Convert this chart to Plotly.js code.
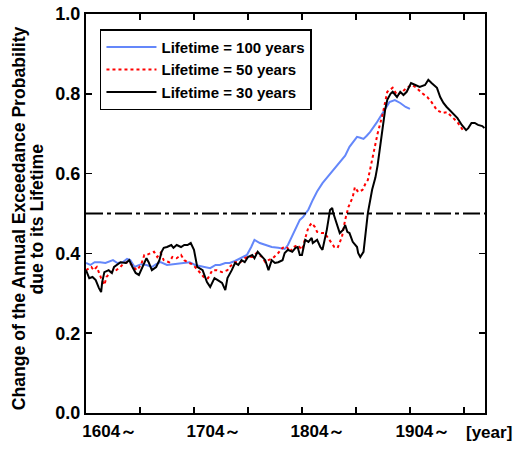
<!DOCTYPE html>
<html>
<head>
<meta charset="utf-8">
<script src="https://cdn.plot.ly/plotly-3.0.1.min.js"></script>
<style>html,body{margin:0;padding:0;background:#fff;}</style>
</head>
<body>
<div id="chart" style="width:518px;height:450px;"></div>
<script>
// ---- data ----
const seriesNames = ['Lifetime = 100 years', 'Lifetime = 50 years', 'Lifetime = 30 years'];

const blueYears = [1604,1608,1612,1617,1622,1629,1633,1638,1642,1645,1649,1655,1660,1665,1669,1673,1679,1685,1691,1697,
  1700,1705,1710,1716,1719,1724,1728,1733,1737,1742,1747,1753,1757,1760,1765,1770,1776,1782,1788,1791,
  1795,1798,1802,1805,1810,1814,1818,1823,1828,1833,1839,1844,1848,1852,1855,1858,1861,1864,1867,1873,
  1879,1885,1890,1895,1900,1904];
const blueVals = [0.376,0.371,0.378,0.378,0.376,0.383,0.376,0.378,0.386,0.383,0.366,0.373,0.371,0.366,0.373,0.378,0.371,0.373,0.376,0.378,
  0.378,0.371,0.368,0.366,0.363,0.371,0.371,0.376,0.376,0.381,0.388,0.396,0.416,0.434,0.426,0.421,0.416,0.414,0.411,0.421,
  0.444,0.464,0.484,0.491,0.510,0.534,0.555,0.576,0.592,0.609,0.627,0.645,0.667,0.680,0.692,0.690,0.687,0.695,0.704,0.727,
  0.752,0.779,0.784,0.777,0.767,0.762];

const redYears = [1604,1609,1611,1614,1618,1621,1623,1627,1632,1636,1639,1644,1648,1651,1655,1658,1660,1664,1667,1670,
  1673,1676,1681,1684,1688,1692,1695,1698,1702,1705,1710,1714,1717,1721,1725,1730,1735,1737,1742,1747,
  1751,1754,1758,1762,1767,1770,1773,1777,1782,1786,1790,1793,1796,1800,1804,1807,1810,1813,1816,1818,
  1822,1825,1828,1832,1834,1837,1841,1844,1847,1851,1853,1856,1860,1863,1865,1867,1870,1874,1879,1883,
  1888,1892,1897,1901,1906,1910,1915,1920,1924,1929,1934,1938,1943,1948,1953];
const redVals = [0.358,0.366,0.358,0.366,0.338,0.321,0.341,0.353,0.358,0.366,0.376,0.378,0.366,0.358,0.371,0.396,0.396,0.401,0.404,0.391,
  0.401,0.383,0.378,0.391,0.388,0.396,0.383,0.378,0.373,0.366,0.351,0.338,0.338,0.358,0.358,0.353,0.358,0.366,0.378,0.378,
  0.388,0.391,0.391,0.401,0.391,0.378,0.383,0.388,0.401,0.414,0.416,0.404,0.416,0.421,0.409,0.439,0.466,0.476,0.466,0.454,
  0.451,0.451,0.439,0.426,0.416,0.414,0.441,0.484,0.516,0.541,0.566,0.554,0.559,0.576,0.584,0.609,0.650,0.700,0.752,0.805,
  0.815,0.797,0.805,0.815,0.822,0.815,0.802,0.792,0.779,0.759,0.752,0.754,0.742,0.729,0.709];

const blackYears = [1604,1607,1610,1613,1616,1618,1619,1621,1625,1628,1630,1633,1636,1641,1644,1647,1650,1653,1656,1660,
  1662,1665,1669,1672,1674,1676,1679,1683,1685,1688,1692,1695,1698,1701,1704,1707,1712,1716,1719,1723,
  1726,1730,1733,1735,1739,1742,1745,1748,1751,1754,1758,1760,1763,1767,1770,1773,1776,1779,1782,1786,
  1788,1791,1795,1798,1800,1802,1804,1807,1810,1813,1814,1818,1821,1823,1827,1830,1832,1833,1836,1839,
  1842,1844,1846,1848,1851,1855,1856,1858,1861,1863,1865,1869,1872,1874,1876,1879,1881,1883,1886,1888,
  1892,1895,1898,1901,1905,1909,1913,1918,1921,1924,1929,1932,1935,1938,1943,1948,1952,1956,1958,1961,
  1964,1967,1971,1973];
const blackVals = [0.358,0.338,0.341,0.333,0.313,0.303,0.328,0.353,0.358,0.351,0.366,0.371,0.378,0.376,0.383,0.366,0.351,0.346,0.366,0.388,
  0.378,0.358,0.366,0.383,0.404,0.414,0.416,0.421,0.414,0.421,0.416,0.421,0.421,0.426,0.409,0.366,0.358,0.328,0.316,0.338,
  0.333,0.326,0.308,0.338,0.358,0.376,0.371,0.383,0.378,0.391,0.396,0.388,0.404,0.391,0.383,0.358,0.383,0.376,0.378,0.383,
  0.401,0.409,0.404,0.414,0.416,0.396,0.396,0.434,0.429,0.439,0.426,0.434,0.416,0.409,0.459,0.509,0.514,0.501,0.476,0.451,
  0.459,0.471,0.454,0.451,0.429,0.416,0.401,0.391,0.404,0.451,0.501,0.560,0.590,0.620,0.660,0.720,0.760,0.785,0.800,0.805,
  0.792,0.805,0.797,0.805,0.827,0.822,0.817,0.822,0.835,0.827,0.815,0.792,0.777,0.767,0.752,0.739,0.722,0.709,0.714,0.727,
  0.727,0.722,0.719,0.714];

const threshold = 0.5;
const xRange = [1604, 1973.5];
const xLabelYears = [1626, 1722.5, 1818.8, 1916];
const xLabelTexts = ['1604～', '1704～', '1804～', '1904～'];
const xUnitLabel = '[year]';
const yTitleLines = ['Change of the Annual Exceedance Probability', 'due to its Lifetime'];

// ---- chart ----
const FONT = 'Liberation Sans, Arial, Helvetica, sans-serif';
const traces = [
  {x: blueYears, y: blueVals, name: seriesNames[0], type: 'scatter', mode: 'lines',
   line: {color: '#6487fa', width: 2}},
  {x: redYears, y: redVals, name: seriesNames[1], type: 'scatter', mode: 'lines',
   line: {color: '#ff0000', width: 2, dash: '3px,3px'}},
  {x: blackYears, y: blackVals, name: seriesNames[2], type: 'scatter', mode: 'lines',
   line: {color: '#000000', width: 2}},
  {x: xRange, y: [threshold, threshold], xaxis: 'x2', type: 'scatter', mode: 'lines',
   showlegend: false, hoverinfo: 'skip',
   line: {color: '#000000', width: 2, dash: '17px,4px,4px,4px'}}
];

const layout = {
  width: 518, height: 450,
  margin: {l: 86, r: 33, t: 14, b: 37},
  paper_bgcolor: '#ffffff', plot_bgcolor: '#ffffff',
  font: {family: FONT, color: '#000000', weight: 'bold'},
  showlegend: true,
  legend: {
    x: 0.035, y: 0.962, xanchor: 'left', yanchor: 'top',
    bgcolor: '#ffffff', bordercolor: '#000000', borderwidth: 1.5,
    font: {family: FONT, size: 15, weight: 'bold'},
    itemwidth: 50,
    tracegroupgap: 0
  },
  xaxis: {
    range: xRange, tick0: 1604, dtick: 50,
    ticks: 'inside', ticklen: 6, tickwidth: 1.5, tickcolor: '#000000',
    showticklabels: false,
    showline: true, linewidth: 2, linecolor: '#000000', mirror: 'ticks',
    showgrid: false, zeroline: false
  },
  xaxis2: {
    overlaying: 'x', anchor: 'y', side: 'bottom', range: xRange,
    tickmode: 'array', tickvals: xLabelYears, ticktext: xLabelTexts,
    ticks: '', showline: false, showgrid: false, zeroline: false,
    ticklabelstandoff: 6,
    tickfont: {family: FONT, size: 17, weight: 'bold'}
  },
  yaxis: {
    range: [0, 1], tick0: 0, dtick: 0.2, tickformat: '.1f',
    ticks: 'inside', ticklen: 6, tickwidth: 1.5, tickcolor: '#000000',
    showline: true, linewidth: 2, linecolor: '#000000', mirror: 'ticks',
    showgrid: false, zeroline: false,
    tickfont: {family: FONT, size: 18, weight: 'bold'}
  },
  annotations: [
    {text: xUnitLabel, xref: 'paper', yref: 'paper', x: 1.01, y: -0.048,
     xanchor: 'center', yanchor: 'middle', showarrow: false,
     font: {family: FONT, size: 17, weight: 'bold'}},
    {text: yTitleLines[0], xref: 'paper', yref: 'paper', x: -0.169, y: 0.487,
     xanchor: 'center', yanchor: 'middle', textangle: -90, showarrow: false,
     font: {family: FONT, size: 17.6, weight: 'bold'}},
    {text: yTitleLines[1], xref: 'paper', yref: 'paper', x: -0.123, y: 0.487,
     xanchor: 'center', yanchor: 'middle', textangle: -90, showarrow: false,
     font: {family: FONT, size: 17.6, weight: 'bold'}}
  ]
};

Plotly.newPlot('chart', traces, layout, {displayModeBar: false, staticPlot: true});
</script>
</body>
</html>
